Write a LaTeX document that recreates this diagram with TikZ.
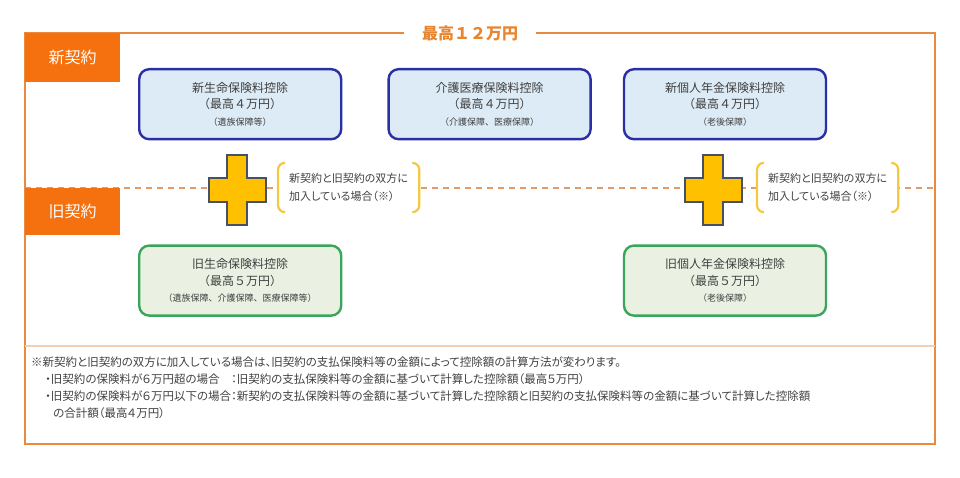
\documentclass[tikz,border=0pt]{standalone}
\usepackage{fontspec}
\setmainfont{Noto Sans CJK JP}
\newfontfamily\propfont{Noto Sans CJK JP}[RawFeature=+palt]
\usetikzlibrary{positioning}

\definecolor{frameorange}{HTML}{E98A41}
\definecolor{tagorange}{HTML}{F5700F}
\definecolor{titleorange}{HTML}{E8852E}
\definecolor{dashorange}{HTML}{E39A6A}
\definecolor{seporange}{HTML}{F3CFB2}
\definecolor{newblue}{HTML}{2B2FA5}
\definecolor{newfill}{HTML}{DCEBF5}
\definecolor{oldgreen}{HTML}{3BA55C}
\definecolor{oldfill}{HTML}{EBF1E2}
\definecolor{plusfill}{HTML}{FFC000}
\definecolor{plusedge}{HTML}{465263}
\definecolor{brkyellow}{HTML}{F5C842}
\definecolor{txtgray}{HTML}{404040}

\begin{document}
\begin{tikzpicture}[
  x=1pt, y=-1pt,
  font=\fontsize{12}{16.5}\selectfont,
  newbox/.style={draw=newblue, fill=newfill, line width=2.4pt, rounded corners=10pt,
    align=center, minimum width=202pt, minimum height=70pt, text=txtgray, inner sep=2pt},
  oldbox/.style={newbox, draw=oldgreen, fill=oldfill},
  tag/.style={fill=tagorange, text=white, font=\fontsize{16}{18}\selectfont,
    minimum width=95pt, inner sep=0pt},
  cond/.style={fill=white, align=left, text=txtgray, font=\propfont\fontsize{11}{18}\selectfont,
    inner xsep=11pt, minimum height=49pt},
  brk/.style={draw=brkyellow, line width=2.2pt, rounded corners=7pt},
  plus/.style={draw=plusedge, fill=plusfill, line width=2pt, line join=miter},
  frame/.style={draw=frameorange, line width=2.2pt},
  divider/.style={draw=dashorange, line width=1.6pt, dash pattern=on 6pt off 5pt},
  note/.style={align=left, text=txtgray, font=\propfont\fontsize{11.5}{16.8}\selectfont, inner sep=0pt}
]
\useasboundingbox (0,0) rectangle (960,478);

% outer frame, separator and the new/old divider
\draw[frame] (25,33) rectangle (935,444);
\draw[draw=seporange, line width=1.4pt] (25,346) -- (935,346);
\draw[divider] (25,188) -- (935,188);
\node[fill=white, inner xsep=18pt, inner ysep=1pt, text=titleorange,
  font=\bfseries\fontsize{16}{18}\selectfont] (cap) at (470,33) {最高１２万円};

% row tags
\node[tag, anchor=north west, minimum height=49pt] (newtag) at (25,33) {新契約};
\node[tag, anchor=north west, minimum height=47pt] (oldtag) at (25,188) {旧契約};

% deductions
\node[newbox, anchor=north west] (newlife) at (138,68)
  {新生命保険料控除\\（最高４万円）\\{\fontsize{9}{14}\selectfont（遺族保障等）}};
\node[newbox, right=45pt of newlife] (care)
  {介護医療保険料控除\\（最高４万円）\\{\fontsize{9}{14}\selectfont（介護保障、医療保障）}};
\node[newbox, right=31pt of care] (newpension)
  {新個人年金保険料控除\\（最高４万円）\\{\fontsize{9}{14}\selectfont（老後保障）}};
\node[oldbox, below=104pt of newlife] (oldlife)
  {旧生命保険料控除\\（最高５万円）\\{\fontsize{9}{14}\selectfont（遺族保障、介護保障、医療保障等）}};
\node[oldbox, below=104pt of newpension] (oldpension)
  {旧個人年金保険料控除\\（最高５万円）\\{\fontsize{9}{14}\selectfont（老後保障）}};

% plus signs
\coordinate (plusL) at (237,190);
\coordinate (plusR) at (713,190);
\draw[plus] (plusL) ++(-10,-35) -- ++(20,0) -- ++(0,23) -- ++(18.5,0) -- ++(0,24)
  -- ++(-18.5,0) -- ++(0,23) -- ++(-20,0) -- ++(0,-23) -- ++(-18.5,0) -- ++(0,-24)
  -- ++(18.5,0) -- cycle;
\draw[plus] (plusR) ++(-10,-35) -- ++(20,0) -- ++(0,23) -- ++(18.5,0) -- ++(0,24)
  -- ++(-18.5,0) -- ++(0,23) -- ++(-20,0) -- ++(0,-23) -- ++(-18.5,0) -- ++(0,-24)
  -- ++(18.5,0) -- cycle;

% conditions in brackets
\node[cond, anchor=west] (condL) at (278,187.5) {新契約と旧契約の双方に\\加入している場合（※）};
\node[cond, anchor=west] (condR) at (757,187.5) {新契約と旧契約の双方に\\加入している場合（※）};
\draw[brk] ([xshift=7pt]condL.north west) -- (condL.north west) -- (condL.south west) -- ([xshift=7pt]condL.south west);
\draw[brk] ([xshift=-7pt]condL.north east) -- (condL.north east) -- (condL.south east) -- ([xshift=-7pt]condL.south east);
\draw[brk] ([xshift=7pt]condR.north west) -- (condR.north west) -- (condR.south west) -- ([xshift=7pt]condR.south west);
\draw[brk] ([xshift=-7pt]condR.north east) -- (condR.north east) -- (condR.south east) -- ([xshift=-7pt]condR.south east);

% footnote
\node[note, anchor=north west] (memo) at (31,357)
  {※新契約と旧契約の双方に加入している場合は、旧契約の支払保険料等の金額によって控除額の計算方法が変わります。\\
   \hspace*{14pt}・旧契約の保険料が６万円超の場合　：旧契約の支払保険料等の金額に基づいて計算した控除額（最高５万円）\\
   \hspace*{14pt}・旧契約の保険料が６万円以下の場合：新契約の支払保険料等の金額に基づいて計算した控除額と旧契約の支払保険料等の金額に基づいて計算した控除額\\
   \hspace*{22pt}の合計額（最高４万円）};
\end{tikzpicture}
\end{document}
